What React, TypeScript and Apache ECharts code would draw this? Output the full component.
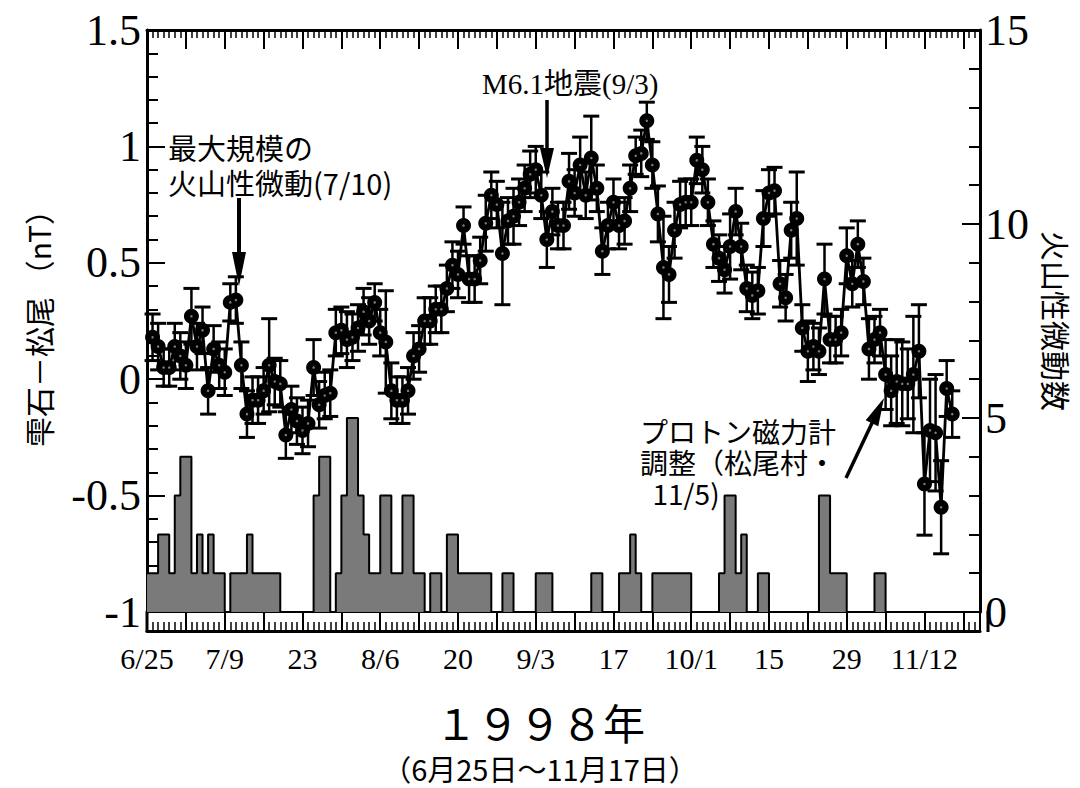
import React, { useEffect, useRef } from "react";
import * as echarts from "echarts";

// x axis: days since 1998-06-25 (day 0)
const xTickLabels = ["6/25", "7/9", "23", "8/6", "20", "9/3", "17", "10/1", "15", "29", "11/12"]; // every 14 days
const leftTickLabels = ["-1", "-0.5", "0", "0.5", "1", "1.5"];
const rightTickLabels = ["0", "5", "10", "15"];

// 雫石−松尾 daily difference (nT), starting at day 1 (6/26)
const firstDay = 1;
const magValues = [
  0.18, 0.14, 0.05, 0.05, 0.14, 0.10, 0.06, 0.27, 0.14, 0.21,
  -0.05, 0.13, 0.06, 0.03, 0.33, 0.34, 0.06, -0.15, -0.09, -0.09,
  -0.05, 0.06, -0.01, -0.02, -0.24, -0.13, -0.18, -0.22, -0.19, 0.05,
  -0.11, -0.07, -0.06, 0.20, 0.21, 0.17, 0.18, 0.22, 0.29, 0.25,
  0.33, 0.20, 0.16, -0.05, -0.09, -0.09, -0.05, 0.10, 0.13, 0.25,
  0.25, 0.30, 0.30, 0.39, 0.49, 0.45, 0.66, 0.43, 0.43, 0.51,
  0.67, 0.79, 0.75, 0.54, 0.68, 0.70, 0.76, 0.82, 0.88, 0.90,
  0.79, 0.60, 0.72, 0.66, 0.66, 0.85, 0.80, 0.92, 0.79, 0.95,
  0.82, 0.55, 0.66, 0.76, 0.66, 0.68, 0.82, 0.96, 0.97, 1.11,
  0.92, 0.71, 0.48, 0.45, 0.64, 0.75, 0.76, 0.76, 0.94, 0.90,
  0.76, 0.58, 0.52, 0.47, 0.57, 0.72, 0.57, 0.39, 0.36, 0.38,
  0.69, 0.80, 0.81, 0.41, 0.35, 0.64, 0.69, 0.22, 0.12, 0.14,
  0.12, 0.43, 0.17, 0.17, 0.20, 0.53, 0.41, 0.58, 0.42, 0.13,
  0.17, 0.20, 0.02, -0.05, -0.01, -0.02, -0.02, 0.02, 0.12, -0.45,
  -0.22, -0.23, -0.55, -0.04, -0.15,
];
const magErrors = [
  0.10, 0.10, 0.08, 0.08, 0.10, 0.10, 0.10, 0.12, 0.10, 0.10,
  0.10, 0.10, 0.10, 0.10, 0.08, 0.10, 0.10, 0.10, 0.10, 0.10,
  0.10, 0.20, 0.10, 0.10, 0.10, 0.10, 0.10, 0.10, 0.10, 0.12,
  0.10, 0.10, 0.10, 0.10, 0.10, 0.12, 0.10, 0.10, 0.10, 0.10,
  0.08, 0.10, 0.22, 0.12, 0.10, 0.10, 0.10, 0.10, 0.10, 0.10,
  0.10, 0.10, 0.10, 0.10, 0.10, 0.10, 0.08, 0.10, 0.10, 0.10,
  0.12, 0.10, 0.10, 0.22, 0.10, 0.12, 0.10, 0.10, 0.10, 0.10,
  0.10, 0.12, 0.10, 0.10, 0.10, 0.12, 0.10, 0.12, 0.10, 0.18,
  0.10, 0.10, 0.10, 0.10, 0.10, 0.10, 0.10, 0.08, 0.10, 0.08,
  0.10, 0.12, 0.22, 0.12, 0.12, 0.10, 0.10, 0.10, 0.10, 0.10,
  0.10, 0.10, 0.10, 0.10, 0.14, 0.10, 0.10, 0.10, 0.10, 0.10,
  0.12, 0.10, 0.10, 0.10, 0.10, 0.12, 0.20, 0.10, 0.13, 0.10,
  0.10, 0.15, 0.10, 0.10, 0.10, 0.12, 0.10, 0.10, 0.10, 0.13,
  0.10, 0.10, 0.15, 0.15, 0.18, 0.18, 0.15, 0.25, 0.20, 0.22,
  0.22, 0.25, 0.20, 0.12, 0.10,
];

// 火山性微動数 (daily count), starting at day 0 (6/25)
const tremorCounts = [
  1, 1, 2, 2, 1, 3, 4, 4, 1, 2,
  1, 2, 1, 1, 0, 1, 1, 1, 2, 1,
  1, 1, 1, 1, 0, 0, 0, 0, 0, 0,
  3, 4, 4, 0, 1, 3, 5, 5, 3, 2,
  1, 1, 3, 3, 1, 1, 3, 3, 1, 1,
  0, 1, 1, 0, 2, 2, 1, 1, 1, 1,
  1, 1, 0, 0, 1, 1, 0, 0, 0, 0,
  1, 1, 1, 0, 0, 0, 0, 0, 0, 0,
  1, 1, 0, 0, 0, 1, 1, 2, 1, 0,
  0, 1, 1, 1, 1, 1, 1, 1, 0, 0,
  0, 0, 0, 1, 3, 3, 1, 2, 0, 0,
  1, 1, 0, 0, 0, 0, 0, 0, 0, 0,
  0, 3, 3, 1, 1, 1, 0, 0, 0, 0,
  0, 1, 1, 0,
];

const SERIF = "'Liberation Serif', 'Times New Roman', serif";
const CJK = "'Noto Sans CJK JP', 'Noto Sans', sans-serif";

export default function App() {
  const ref = useRef<HTMLDivElement>(null);

  useEffect(() => {
    if (!ref.current) return;
    const chart = echarts.init(ref.current, undefined, { renderer: "svg" });

    const magData = magValues.map((v, i) => [firstDay + i, v]);
    const errData = magValues.map((v, i) => [firstDay + i, v, magErrors[i]]);
    const tremorData = tremorCounts.map((c, i) => [i, c]);
    tremorData.push([tremorCounts.length, 0]);

    const xBase = { type: "value", min: 0, max: 150, splitLine: { show: false } };

    const option: any = {
      animation: false,
      backgroundColor: "#fff",
      grid: { left: 147, right: 92, top: 30, bottom: 176, containLabel: false },
      xAxis: [
        {
          ...xBase,
          position: "bottom",
          axisLine: { show: true, onZero: false, lineStyle: { color: "#000", width: 2 } },
          axisTick: { show: false },
          axisLabel: { show: false },
        },
        {
          ...xBase,
          interval: 7,
          position: "bottom",
          offset: 19,
          axisLine: { show: true, onZero: false, lineStyle: { color: "#000", width: 3 } },
          axisTick: { show: true, inside: true, length: 19, lineStyle: { color: "#000", width: 2 } },
          minorTick: { show: true, splitNumber: 7, length: 9, lineStyle: { color: "#000", width: 1.5 } },
          axisLabel: {
            show: true,
            margin: 12,
            color: "#000",
            fontFamily: SERIF,
            fontSize: 30,
            formatter: (v: number) => (v % 14 === 0 && v / 14 < xTickLabels.length ? xTickLabels[v / 14] : ""),
          },
        },
        {
          ...xBase,
          interval: 7,
          position: "top",
          axisLine: { show: true, onZero: false, lineStyle: { color: "#000", width: 3 } },
          axisTick: { show: true, inside: true, length: 19, lineStyle: { color: "#000", width: 2 } },
          minorTick: { show: true, splitNumber: 7, length: 8, lineStyle: { color: "#000", width: 1.5 } },
          axisLabel: { show: false },
        },
      ],
      yAxis: [
        {
          type: "value",
          min: -1,
          max: 1.5,
          interval: 0.5,
          position: "left",
          name: "雫石－松尾 （nT）",
          nameLocation: "middle",
          nameGap: 94,
          nameTextStyle: { fontFamily: CJK, fontSize: 30, color: "#000" },
          axisLine: { show: true, onZero: false, lineStyle: { color: "#000", width: 3 } },
          axisTick: { show: true, inside: true, length: 18, lineStyle: { color: "#000", width: 2 } },
          minorTick: { show: true, splitNumber: 5, length: 11, lineStyle: { color: "#000", width: 2 } },
          splitLine: { show: false },
          axisLabel: {
            margin: 6,
            color: "#000",
            fontFamily: SERIF,
            fontSize: 44,
            formatter: (v: number) => leftTickLabels[Math.round((v + 1) / 0.5)] ?? "",
          },
        },
        {
          type: "value",
          min: 0,
          max: 15,
          interval: 5,
          position: "right",
          name: "火山性微動数",
          nameLocation: "middle",
          nameRotate: -90,
          nameGap: 62,
          nameTextStyle: { fontFamily: CJK, fontSize: 30, color: "#000" },
          axisLine: { show: true, onZero: false, lineStyle: { color: "#000", width: 3 } },
          axisTick: { show: true, inside: true, length: 18, lineStyle: { color: "#000", width: 2 } },
          minorTick: { show: true, splitNumber: 5, length: 11, lineStyle: { color: "#000", width: 2 } },
          splitLine: { show: false },
          axisLabel: {
            margin: 5,
            color: "#000",
            fontFamily: SERIF,
            fontSize: 44,
            formatter: (v: number) => rightTickLabels[Math.round(v / 5)] ?? "",
          },
        },
      ],
      series: [
        {
          name: "火山性微動数",
          type: "line",
          xAxisIndex: 0,
          yAxisIndex: 1,
          step: "end",
          data: tremorData,
          symbol: "none",
          lineStyle: { color: "#000", width: 2 },
          areaStyle: { color: "#7a7a7a", opacity: 1 },
          z: 1,
        },
        {
          name: "error",
          type: "custom",
          xAxisIndex: 0,
          yAxisIndex: 0,
          data: errData,
          encode: { x: 0, y: 1 },
          z: 2,
          renderItem: (params: any, api: any) => {
            const x = api.value(0);
            const y = api.value(1);
            const e = api.value(2);
            const top = api.coord([x, y + e]);
            const bot = api.coord([x, y - e]);
            const hw = 8;
            return {
              type: "group",
              children: [
                { type: "line", shape: { x1: top[0], y1: top[1], x2: bot[0], y2: bot[1] }, style: { stroke: "#000", lineWidth: 2.5 } },
                { type: "line", shape: { x1: top[0] - hw, y1: top[1], x2: top[0] + hw, y2: top[1] }, style: { stroke: "#000", lineWidth: 3 } },
                { type: "line", shape: { x1: bot[0] - hw, y1: bot[1], x2: bot[0] + hw, y2: bot[1] }, style: { stroke: "#000", lineWidth: 3 } },
              ],
            };
          },
        },
        {
          name: "雫石－松尾",
          type: "line",
          xAxisIndex: 0,
          yAxisIndex: 0,
          data: magData,
          symbol: "circle",
          symbolSize: 15,
          showSymbol: true,
          itemStyle: { color: "#000" },
          lineStyle: { color: "#000", width: 2.8 },
          z: 3,
        },
        {
          name: "center",
          type: "scatter",
          xAxisIndex: 0,
          yAxisIndex: 0,
          data: magData,
          symbol: "circle",
          symbolSize: 2.5,
          itemStyle: { color: "#9a9a9a" },
          z: 4,
        },
      ],
      graphic: [
        // bottom strip side lines
        { type: "line", shape: { x1: 147, y1: 611, x2: 147, y2: 632 }, style: { stroke: "#000", lineWidth: 3 } },
        { type: "line", shape: { x1: 988, y1: 611, x2: 988, y2: 632 }, style: { stroke: "#000", lineWidth: 3 } },
        // annotation 1
        {
          type: "text",
          x: 168,
          y: 129,
          style: { text: "最大規模の\n火山性微動(7/10)", fontFamily: CJK, fontSize: 29, lineHeight: 35, fill: "#000" },
        },
        { type: "line", shape: { x1: 239, y1: 198, x2: 239, y2: 256 }, style: { stroke: "#000", lineWidth: 4 } },
        { type: "polygon", shape: { points: [[232, 252], [246, 252], [239, 286]] }, style: { fill: "#000" } },
        // annotation 2
        {
          type: "text",
          x: 482,
          y: 68,
          style: { text: "M6.1地震(9/3)", fontFamily: SERIF + ", " + CJK, fontSize: 29, lineHeight: 32, fill: "#000" },
        },
        { type: "line", shape: { x1: 547, y1: 100, x2: 547, y2: 152 }, style: { stroke: "#000", lineWidth: 3.5 } },
        { type: "polygon", shape: { points: [[540, 148], [554, 148], [547, 178]] }, style: { fill: "#000" } },
        // annotation 3
        {
          type: "text",
          x: 640,
          y: 415,
          style: { text: "プロトン磁力計\n調整（松尾村・\n  11/5)", fontFamily: CJK, fontSize: 28, lineHeight: 31, fill: "#000" },
        },
        { type: "line", shape: { x1: 846, y1: 478, x2: 873, y2: 421 }, style: { stroke: "#000", lineWidth: 3.5 } },
        { type: "polygon", shape: { points: [[884, 398], [878.3, 426.3], [865.7, 420.3]] }, style: { fill: "#000" } },
        // bottom titles
        { type: "text", x: 540, y: 721, style: { text: "１９９８年", fontFamily: CJK, fontSize: 42, fill: "#000", align: "center", verticalAlign: "middle" } },
        { type: "text", x: 540, y: 768, style: { text: "（6月25日～11月17日）", fontFamily: CJK, fontSize: 29, fill: "#000", align: "center", verticalAlign: "middle" } },
      ],
    };

    chart.setOption(option);
    return () => chart.dispose();
  }, []);

  return (
    <div
      ref={ref}
      style={{ position: "fixed", left: 0, top: 0, width: 1080, height: 788, background: "#fff" }}
    />
  );
}
